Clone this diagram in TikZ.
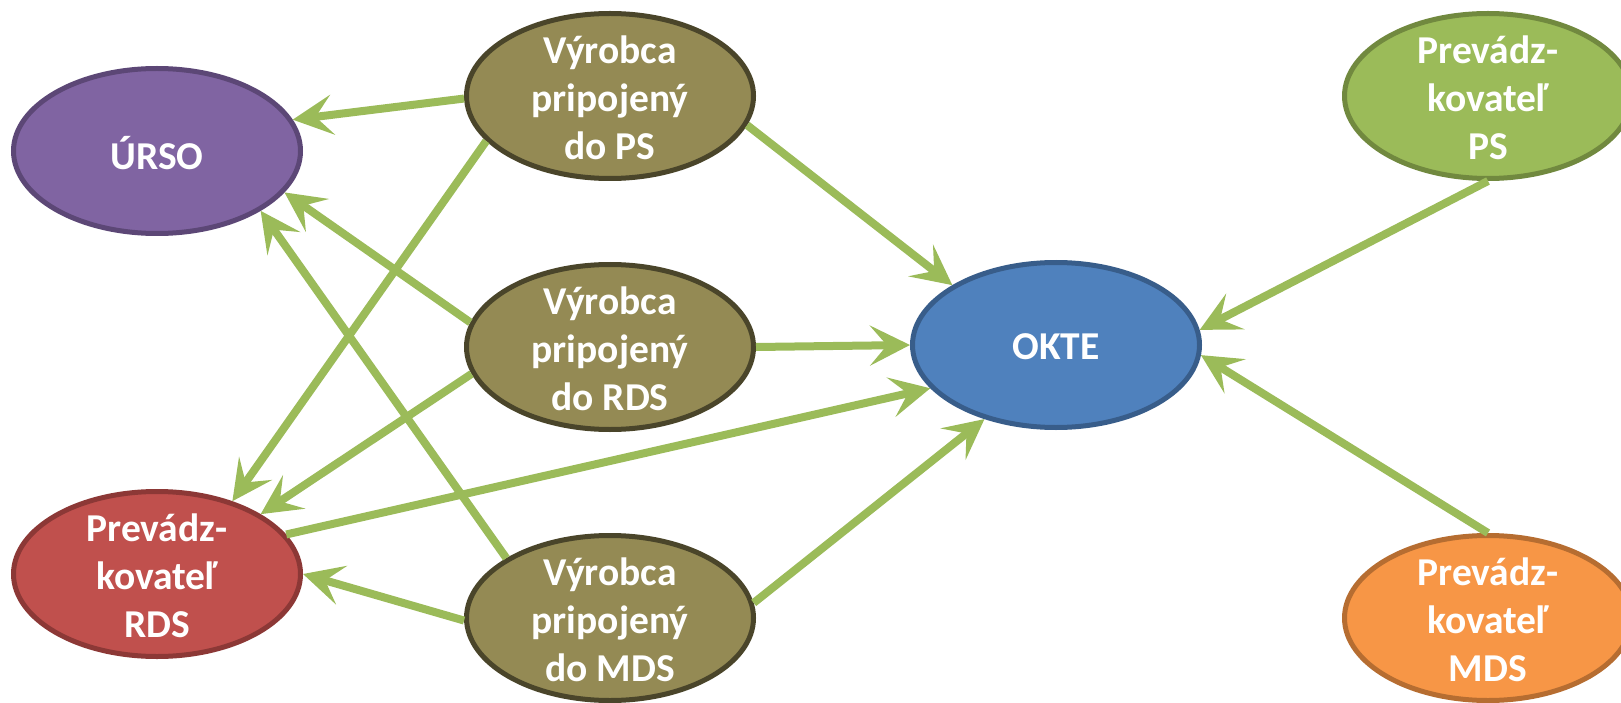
\documentclass[tikz,border=0pt]{standalone}
\usepackage{fontspec}
\setmainfont{Carlito}
\usetikzlibrary{shapes.geometric,arrows.meta}
\definecolor{arrowgreen}{HTML}{9BBB59}
\definecolor{ursofill}{HTML}{8064A2}
\definecolor{ursoline}{HTML}{5C4776}
\definecolor{olivefill}{HTML}{948A54}
\definecolor{oliveline}{HTML}{4A452A}
\definecolor{oktefill}{HTML}{4F81BD}
\definecolor{okteline}{HTML}{385D8A}
\definecolor{psfill}{HTML}{9BBB59}
\definecolor{psline}{HTML}{71893F}
\definecolor{rdsfill}{HTML}{C0504D}
\definecolor{rdsline}{HTML}{8C3836}
\definecolor{mdsfill}{HTML}{F79646}
\definecolor{mdsline}{HTML}{B66D31}
\begin{document}
\begin{tikzpicture}[x=1pt,y=-1pt,
  ell/.style={ellipse, minimum width=287pt, minimum height=165pt, inner sep=0pt, line width=5pt},
  lbl/.style={text=white, font=\bfseries\fontsize{39.5}{48}\selectfont, align=center, inner sep=0pt},
  arr/.style={draw=arrowgreen, line width=8pt, -{Stealth[length=40pt,width=40pt,inset=17pt]}}]
\clip (0,0) rectangle (1621,703);
% nodes
\node[ell, fill=ursofill, draw=ursoline] (urso) at (157,151) {};
\node[ell, fill=rdsfill, draw=rdsline] (prds) at (157,574) {};
\node[ell, fill=olivefill, draw=oliveline] (vps) at (610,96) {};
\node[ell, fill=olivefill, draw=oliveline] (vrds) at (610,347) {};
\node[ell, fill=olivefill, draw=oliveline] (vmds) at (610,618) {};
\node[ell, fill=oktefill, draw=okteline] (okte) at (1056,345) {};
\node[ell, fill=psfill, draw=psline] (pps) at (1488,96) {};
\node[ell, fill=mdsfill, draw=mdsline] (pmds) at (1488,618) {};
% labels
\node[lbl] (turso) at (157,153) {ÚRSO};
\node[lbl] (tprds) at (157,576) {Prevádz-\\kovateľ\\RDS};
\node[lbl] (tvps) at (610,98) {Výrobca\\pripojený\\do PS};
\node[lbl] (tvrds) at (610,349) {Výrobca\\pripojený\\do RDS};
\node[lbl] (tvmds) at (610,620) {Výrobca\\pripojený\\do MDS};
\node[lbl] (tokte) at (1056,347) {OKTE};
\node[lbl] (tpps) at (1488,98) {Prevádz-\\kovateľ\\PS};
\node[lbl] (tpmds) at (1488,620) {Prevádz-\\kovateľ\\MDS};
% connectors
\draw[arr] (vps.181) -- (urso.13);
\draw[arr] (vps.200) -- (prds.44);
\draw[arr] (vps.348) -- (okte.150);
\draw[arr] (vrds.170) -- (urso.342);
\draw[arr] (vrds.east) -- (okte.west);
\draw[arr] (vrds.191) -- (prds.30);
\draw[arr] (vmds.150) -- (urso.330);
\draw[arr] (vmds.181) -- (prds.0);
\draw[arr] (vmds.6) -- (okte.226);
\draw[arr] (prds.17) -- (okte.199);
\draw[arr] (pps.south) -- (okte.6);
\draw[arr] (pmds.north) -- (okte.356);
\end{tikzpicture}
\end{document}
